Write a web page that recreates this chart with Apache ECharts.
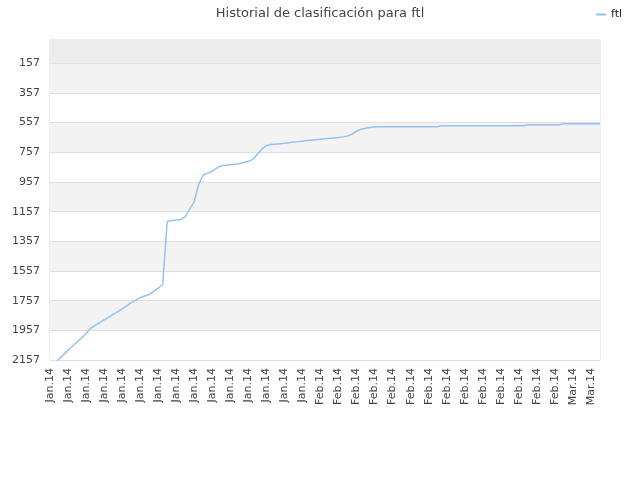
<!DOCTYPE html>
<html>
<head>
	<meta charset="utf-8">
	<title>Historial de clasificación para ftl</title>
	<style type="text/css">
		html, body { margin: 0; padding: 0; background: #fff; }
		#main { width: 640px; height: 480px; }
	</style>
	<script src="https://cdn.jsdelivr.net/npm/echarts@6/dist/echarts.min.js"></script>
</head>
<body>
	<div id="main"></div>

	<script type="text/javascript">
		// one label per sample, the axis shows every 4th one
		var months = [
			'Jan.14','Jan.14','Jan.14','Jan.14','Jan.14','Jan.14','Jan.14','Jan.14','Jan.14','Jan.14',
			'Jan.14','Jan.14','Jan.14','Jan.14','Jan.14','Jan.14','Jan.14','Jan.14','Jan.14','Jan.14',
			'Jan.14','Jan.14','Jan.14','Jan.14','Jan.14','Jan.14','Jan.14','Jan.14','Jan.14','Jan.14',
			'Jan.14','Jan.14','Jan.14','Jan.14','Jan.14','Jan.14','Jan.14','Jan.14','Jan.14','Jan.14',
			'Jan.14','Jan.14','Jan.14','Jan.14','Jan.14','Jan.14','Jan.14','Jan.14','Jan.14','Jan.14',
			'Jan.14','Jan.14','Jan.14','Jan.14','Jan.14','Jan.14','Jan.14','Jan.14','Feb.14','Feb.14',
			'Feb.14','Feb.14','Feb.14','Feb.14','Feb.14','Feb.14','Feb.14','Feb.14','Feb.14','Feb.14',
			'Feb.14','Feb.14','Feb.14','Feb.14','Feb.14','Feb.14','Feb.14','Feb.14','Feb.14','Feb.14',
			'Feb.14','Feb.14','Feb.14','Feb.14','Feb.14','Feb.14','Feb.14','Feb.14','Feb.14','Feb.14',
			'Feb.14','Feb.14','Feb.14','Feb.14','Feb.14','Feb.14','Feb.14','Feb.14','Feb.14','Feb.14',
			'Feb.14','Feb.14','Feb.14','Feb.14','Feb.14','Feb.14','Feb.14','Feb.14','Feb.14','Feb.14',
			'Feb.14','Feb.14','Feb.14','Feb.14','Feb.14','Feb.14','Mar.14','Mar.14','Mar.14','Mar.14',
			'Mar.14','Mar.14','Mar.14'
		];

		// ranking position (lower is better)
		var ranks = [
			2210, 2180, 2150, 2121, 2092, 2063, 2036, 2009, 1978, 1943,
			1924, 1906, 1887, 1869, 1850, 1832, 1813, 1793, 1770, 1753,
			1737, 1726, 1716, 1694, 1672, 1648, 1223, 1217, 1213, 1210,
			1190, 1139, 1089, 971, 910, 897, 883, 863, 847, 845,
			841, 838, 834, 826, 817, 805, 770, 736, 711, 705,
			702, 699, 696, 692, 688, 685, 682, 678, 675, 672,
			669, 666, 663, 660, 657, 653, 647, 635, 615, 601,
			595, 590, 586, 584, 584, 584, 584, 584, 584, 584,
			584, 584, 584, 584, 584, 584, 584, 578, 578, 578,
			578, 578, 578, 578, 578, 578, 578, 578, 578, 578,
			578, 578, 578, 578, 578, 578, 571, 571, 571, 571,
			571, 571, 571, 571, 564, 564, 564, 564, 564, 564,
			564, 564, 564
		];

		var yTicks = [157, 357, 557, 757, 957, 1157, 1357, 1557, 1757, 1957, 2157];

		var font = 'DejaVu Sans';
		var chart = echarts.init(document.getElementById('main'));

		var option = {
			animation: false,
			title: {
				text: 'Historial de clasificación para ftl',
				left: 'center',
				top: 2,
				textStyle: { fontFamily: font, fontSize: 13, fontWeight: 'normal', color: '#444' }
			},
			legend: {
				data: ['ftl'],
				right: 13,
				top: 4,
				icon: 'rect',
				itemWidth: 10,
				itemHeight: 2,
				itemGap: 5,
				textStyle: { fontFamily: font, fontSize: 11, color: '#222' }
			},
			grid: {
				left: 50,
				right: 40,
				top: 40,
				bottom: 120,
				show: true,
				borderColor: '#dcdcdc',
				borderWidth: 1
			},
			xAxis: {
				type: 'category',
				data: months,
				boundaryGap: false,
				axisLine: { lineStyle: { color: '#dcdcdc' } },
				axisTick: { show: false },
				splitLine: { show: false },
				axisLabel: {
					interval: 3,
					rotate: 90,
					margin: 8,
					fontFamily: font,
					fontSize: 11,
					color: '#444'
				}
			},
			yAxis: {
				type: 'value',
				inverse: true,
				min: 0,
				max: 2157,
				axisLine: { show: false },
				axisTick: { show: false, customValues: yTicks },
				axisLabel: {
					customValues: yTicks,
					margin: 10,
					fontFamily: font,
					fontSize: 11,
					color: '#444',
					formatter: function (v) { return String(v); }
				},
				splitLine: { show: true, lineStyle: { color: '#e0e0e0' } },
				splitArea: { show: true, areaStyle: { color: ['#f3f3f3', '#ffffff'] } }
			},
			series: [{
				name: 'ftl',
				type: 'line',
				data: ranks,
				showSymbol: false,
				symbol: 'none',
				clip: true,
				lineStyle: { color: '#94c2f3', width: 1.5 },
				itemStyle: { color: '#94c2f3' },
				markArea: {
					silent: true,
					itemStyle: { color: '#ececec' },
					data: [[{ yAxis: 0 }, { yAxis: 157 }]]
				}
			}]
		};

		chart.setOption(option);
	</script>
</body>
</html>
